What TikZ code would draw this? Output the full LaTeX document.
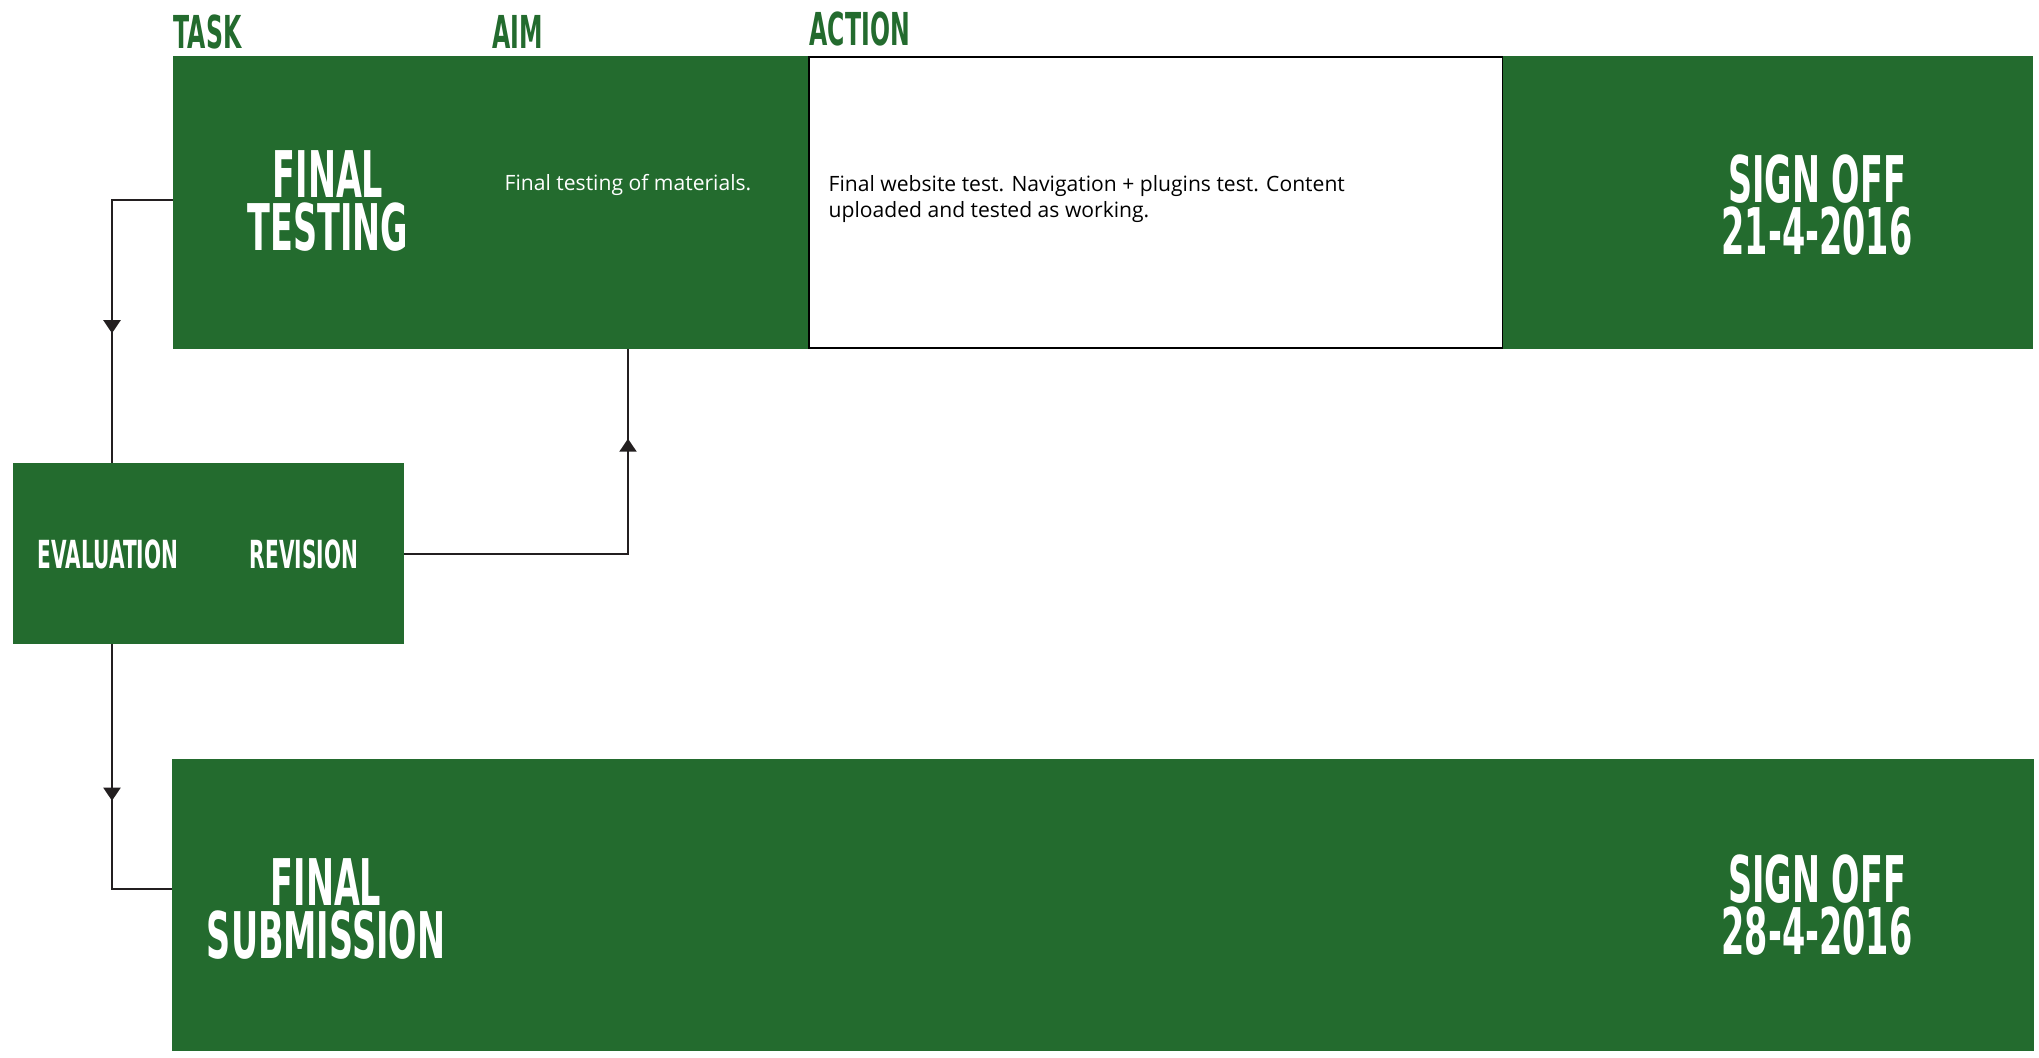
\documentclass[tikz,border=0pt]{standalone}
\usepackage{fontspec}
\setmainfont{Open Sans}
\newfontfamily\headfont[FakeStretch=0.52]{DejaVu Sans}
\usepackage{xcolor}
\usetikzlibrary{arrows.meta,decorations.markings}

\definecolor{planGreen}{RGB}{35,107,46}
\definecolor{lineGray}{RGB}{35,31,32}

\tikzset{
    greenbox/.style={fill=planGreen, inner sep=0pt, outer sep=0pt},
    headlbl/.style={text=planGreen, anchor=base west, inner sep=0pt,
        font=\headfont\bfseries\fontsize{12.9}{12.9}\selectfont},
    bigtxt/.style={text=white, align=center, inner sep=0pt,
        font=\headfont\bfseries\fontsize{18.3}{15}\selectfont},
    midtxt/.style={text=white, inner sep=0pt,
        font=\headfont\bfseries\fontsize{11}{11}\selectfont},
    smalltxt/.style={inner sep=0pt, font=\fontsize{6}{7.4}\selectfont},
    link/.style={draw=lineGray, line width=0.02cm},
    midarrow/.style={postaction={decorate, decoration={markings,
        mark=at position #1 with {\arrow{Triangle[width=0.17cm,length=0.13cm]}}}}}
}

\begin{document}
\begin{tikzpicture}[x=0.01cm, y=-0.01cm]
    \path[use as bounding box, fill=white] (0,0) rectangle (2039,1057);

    % column heads
    \node [headlbl] (taskhead) at (173,48) {TASK};
    \node [headlbl] (aimhead) at (492,48) {AIM};
    \node [headlbl] (actionhead) at (809,45) {ACTION};

    % final testing row
    \node [greenbox,
        minimum width=6.36cm,
        minimum height=2.93cm,
    ] (task) at (491,202.5) {};

    \node [draw=black, line width=0.02cm, fill=white,
        inner sep=0pt, outer sep=0pt,
        minimum width=6.94cm,
        minimum height=2.91cm,
    ] (action) at (1156,202.5) {};

    \node [greenbox,
        minimum width=5.30cm,
        minimum height=2.93cm,
    ] (signa) at (1768,202.5) {};

    \node [bigtxt] (tasklbl) at (328,201) {FINAL\\TESTING};
    \node [smalltxt, text=white] (aimlbl) at (628,185) {Final testing of materials.};
    \node [smalltxt, align=left, anchor=north west] (actionlbl) at (828,175)
        {Final website test. Navigation + plugins test. Content\\uploaded and tested as working.};
    \node [bigtxt] (signalbl) at (1817,205) {SIGN OFF\\21-4-2016};

    % evaluation / revision
    \node [greenbox,
        minimum width=3.91cm,
        minimum height=1.81cm,
    ] (evalbox) at (208.5,553.5) {};
    \node [midtxt] (evallbl) at (108,554) {EVALUATION};
    \node [midtxt] (revlbl) at (304,554) {REVISION};

    % final submission row
    \node [greenbox,
        minimum width=18.60cm,
        minimum height=2.92cm,
    ] (sub) at (1103,905) {};
    \node [bigtxt] (sublbl) at (326,909) {FINAL\\SUBMISSION};
    \node [bigtxt] (signblbl) at (1817,905) {SIGN OFF\\28-4-2016};

    % connectors
    \draw[link, midarrow=0.60] ([yshift=0.03cm]task.west) -| ([xshift=0.04cm]evallbl.center |- evalbox.north);
    \draw[link, midarrow=0.791] (evalbox.east |- revlbl) -| (aimlbl |- task.south);
    \draw[link, midarrow=0.513] ([xshift=0.04cm]evallbl.center |- evalbox.south) |- ([yshift=0.16cm]sub.west);
\end{tikzpicture}
\end{document}
